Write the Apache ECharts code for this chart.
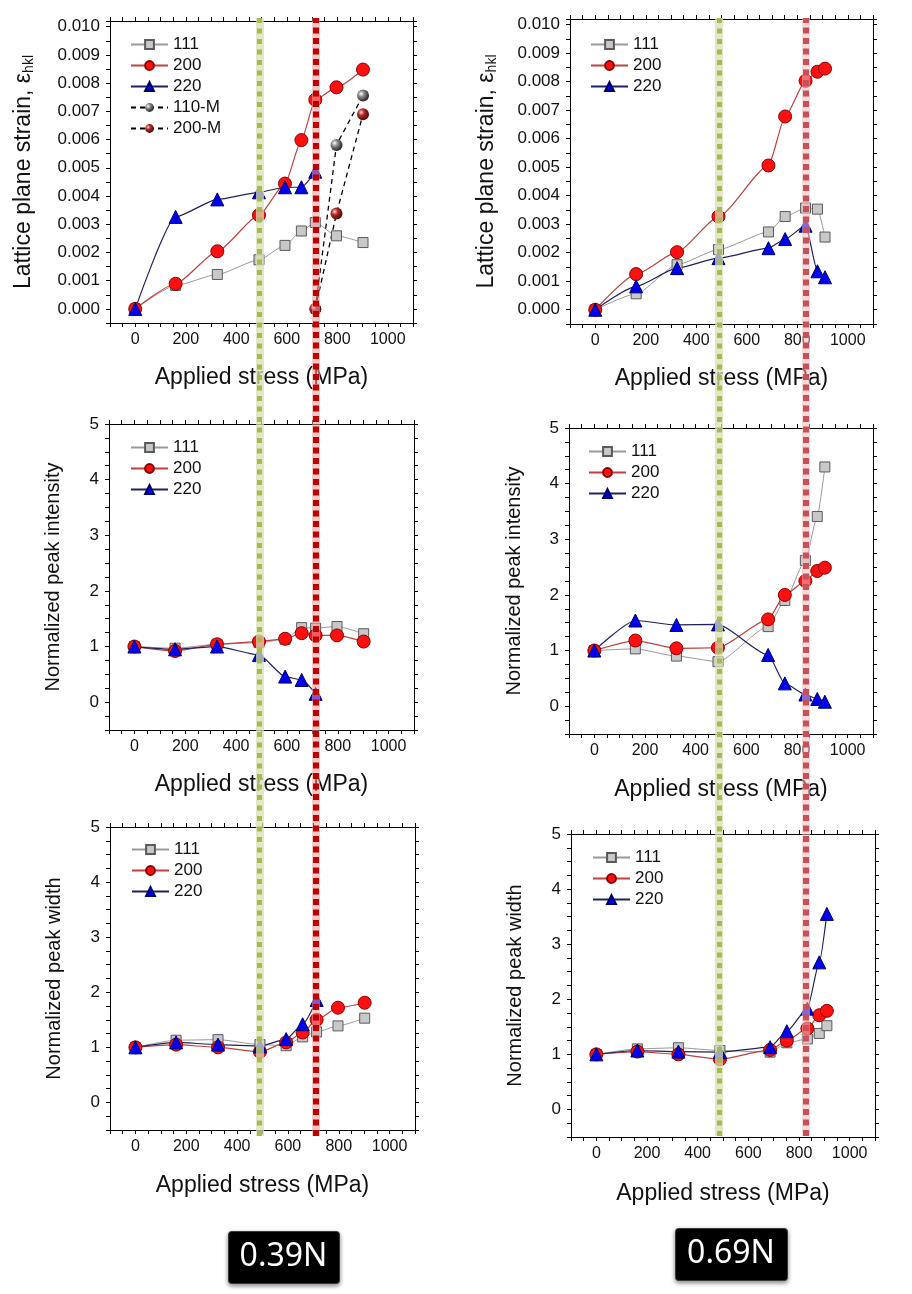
<!DOCTYPE html>
<html><head><meta charset="utf-8">
<script src="https://cdn.jsdelivr.net/npm/echarts@6/dist/echarts.min.js"></script>
<style>html,body{margin:0;padding:0;background:#fff}#c{width:912px;height:1294px}</style>
</head><body><div id="c"></div>
<script>
// ---------------- data ----------------
const xLeft  = [0, 160, 325, 490, 593, 658, 713, 797, 902];   // applied stress, 0.39N
const xLeftM = [713, 797, 902];                               // martensite points, 0.39N
const xRight = [0, 162, 324, 488, 686, 752, 833, 880, 910];   // applied stress, 0.69N

const strainL111  = [0, 0.00083, 0.00122, 0.00174, 0.00225, 0.00276, 0.00306, 0.00259, 0.00235];
const strainL200  = [0, 0.00089, 0.00204, 0.00332, 0.00444, 0.00598, 0.00741, 0.00785, 0.00848];
const strainL220  = [0, 0.00326, 0.00388, 0.00413, 0.00431, 0.00431, 0.00486];
const strainL110M = [0, 0.00581, 0.00756];
const strainL200M = [0, 0.00338, 0.00690];

const intenL111 = [1.0, 0.97, 1.04, 1.07, 1.13, 1.34, 1.33, 1.36, 1.23];
const intenL200 = [1.0, 0.92, 1.04, 1.09, 1.14, 1.24, 1.20, 1.20, 1.09];
const intenL220 = [1.0, 0.95, 1.00, 0.85, 0.46, 0.40, 0.15];

const widthL111 = [1.0, 1.13, 1.14, 1.05, 1.03, 1.19, 1.28, 1.39, 1.53];
const widthL200 = [1.0, 1.05, 1.00, 0.92, 1.09, 1.27, 1.50, 1.72, 1.81];
const widthL220 = [1.0, 1.09, 1.05, 1.02, 1.15, 1.42, 1.86];

const strainR111 = [0, 0.00056, 0.00158, 0.00211, 0.00273, 0.00327, 0.00357, 0.00353, 0.00255];
const strainR200 = [0, 0.00125, 0.00202, 0.00327, 0.00506, 0.00678, 0.00803, 0.00835, 0.00846];
const strainR220 = [0, 0.00082, 0.00146, 0.00181, 0.00216, 0.00248, 0.00295, 0.00135, 0.00114];

const intenR111 = [1.0, 1.03, 0.90, 0.80, 1.43, 1.90, 2.62, 3.41, 4.30];
const intenR200 = [1.0, 1.18, 1.04, 1.05, 1.56, 2.00, 2.25, 2.43, 2.49];
const intenR220 = [1.0, 1.54, 1.46, 1.47, 0.92, 0.41, 0.21, 0.13, 0.08];

const widthR111 = [1.0, 1.10, 1.12, 1.07, 1.04, 1.21, 1.28, 1.38, 1.52];
const widthR200 = [1.0, 1.05, 1.00, 0.91, 1.08, 1.25, 1.47, 1.71, 1.79];
const widthR220 = [1.0, 1.07, 1.05, 1.04, 1.13, 1.42, 1.83, 2.67, 3.55];

const markLeft  = [490, 711];   // onset lines, 0.39N
const markRight = [488, 830];   // onset lines, 0.69N

const xTickLabels = [0, 200, 400, 600, 800, 1000];
const caseLabels = ['0.39N', '0.69N'];
const xName = 'Applied stress (MPa)';
const yNames = ['strain', 'Normalized peak intensity', 'Normalized peak width'];

// ---------------- helpers ----------------
const FONT = "'Liberation Sans', Arial, sans-serif";
const zip = (xs, ys) => ys.map((y, i) => [xs[i], y]);

function sphere(c0, c1, c2) {
  return {type: 'radial', x: 0.35, y: 0.35, r: 0.75,
    colorStops: [{offset: 0, color: c0}, {offset: 0.35, color: c1}, {offset: 1, color: c2}]};
}
function mk(name, xs, ys, kind, xi) {
  const base = {name, type: 'line', xAxisIndex: xi, yAxisIndex: xi, data: zip(xs, ys),
    smooth: 0.2, smoothMonotone: 'x', z: 3};
  if (kind === '111') Object.assign(base, {symbol: 'rect', symbolSize: 10,
    itemStyle: {color: '#c8c8c8', borderColor: '#5a5a5a', borderWidth: 1},
    lineStyle: {color: '#9a9a9a', width: 1}});
  if (kind === '200') Object.assign(base, {symbol: 'circle', symbolSize: 13,
    itemStyle: {color: '#ff1010', borderColor: '#8a0000', borderWidth: 1},
    lineStyle: {color: '#c04040', width: 1.2}});
  if (kind === '220') Object.assign(base, {symbol: 'triangle', symbolSize: 13,
    itemStyle: {color: '#0000f0', borderColor: '#000060', borderWidth: 1},
    lineStyle: {color: '#202060', width: 1.2}});
  if (kind === '110M') Object.assign(base, {symbol: 'circle', symbolSize: 12, smooth: false,
    itemStyle: {color: sphere('#ffffff', '#8a8a8a', '#111111')},
    lineStyle: {color: '#000', width: 1.3, type: [5, 4]}});
  if (kind === '200M') Object.assign(base, {symbol: 'circle', symbolSize: 12, smooth: false,
    itemStyle: {color: sphere('#ffd8d8', '#b52a2a', '#3a0000')},
    lineStyle: {color: '#000', width: 1.3, type: [5, 4]}});
  return base;
}

const panels = [
  {grid: {left: 110, top: 21, width: 303, height: 302}, y: [-0.0005, 0.0102, 0.0005, 0.001, 3], yName: 0, yGap: 74, xGap: 43,
   legend: {left: 125, top: 31}, names: ['111', '200', '220', '110-M', '200-M'],
   s: gi => [mk('111', xLeft, strainL111, '111', gi), mk('200', xLeft, strainL200, '200', gi), mk('220', xLeft, strainL220, '220', gi),
             mk('110-M', xLeftM, strainL110M, '110M', gi), mk('200-M', xLeftM, strainL200M, '200M', gi)]},
  {grid: {left: 109, top: 424, width: 305, height: 306}, y: [-0.5, 5, 0.25, 1, 0], yName: 1, yGap: 45, xGap: 43,
   legend: {left: 125, top: 434}, names: ['111', '200', '220'],
   s: gi => [mk('111', xLeft, intenL111, '111', gi), mk('200', xLeft, intenL200, '200', gi), mk('220', xLeft, intenL220, '220', gi)]},
  {grid: {left: 110, top: 827, width: 305, height: 303}, y: [-0.5, 5, 0.25, 1, 0], yName: 2, yGap: 45, xGap: 44,
   legend: {left: 126, top: 836}, names: ['111', '200', '220'],
   s: gi => [mk('111', xLeft, widthL111, '111', gi), mk('200', xLeft, widthL200, '200', gi), mk('220', xLeft, widthL220, '220', gi)]},
  {grid: {left: 570, top: 19, width: 303, height: 305}, y: [-0.0005, 0.0102, 0.0005, 0.001, 3], yName: 0, yGap: 71, xGap: 43,
   legend: {left: 585, top: 31}, names: ['111', '200', '220'],
   s: gi => [mk('111', xRight, strainR111, '111', gi), mk('200', xRight, strainR200, '200', gi), mk('220', xRight, strainR220, '220', gi)]},
  {grid: {left: 569, top: 428, width: 304, height: 306}, y: [-0.5, 5, 0.25, 1, 0], yName: 1, yGap: 44, xGap: 44,
   legend: {left: 583, top: 438}, names: ['111', '200', '220'],
   s: gi => [mk('111', xRight, intenR111, '111', gi), mk('200', xRight, intenR200, '200', gi), mk('220', xRight, intenR220, '220', gi)]},
  {grid: {left: 571, top: 834, width: 304, height: 303}, y: [-0.5, 5, 0.25, 1, 0], yName: 2, yGap: 45, xGap: 45,
   legend: {left: 587, top: 844}, names: ['111', '200', '220'],
   s: gi => [mk('111', xRight, widthR111, '111', gi), mk('200', xRight, widthR200, '200', gi), mk('220', xRight, widthR220, '220', gi)]}
];

const grid = [], xAxis = [], yAxis = [], series = [], legend = [];
const lineAxis = {show: true, onZero: false, lineStyle: {color: '#000', width: 1}};
const tick = {show: true, length: 4, lineStyle: {color: '#000', width: 1}};

panels.forEach((p, i) => {
  grid.push(Object.assign({containLabel: false}, p.grid));
  const [ymin, ymax, yint, ystep, ydec] = p.y;
  const xi = 2 * i;
  xAxis.push({type: 'value', gridIndex: i, min: -100, max: 1100, interval: 50, position: 'bottom',
    axisLine: lineAxis, axisTick: tick, splitLine: {show: false},
    axisLabel: {fontSize: 16, color: '#111', fontFamily: FONT, margin: 9,
      formatter: v => xTickLabels.indexOf(Math.round(v)) >= 0 && Math.abs(v - Math.round(v)) < 1e-6 ? String(Math.round(v)) : ''},
    name: xName, nameLocation: 'middle', nameGap: p.xGap,
    nameTextStyle: {fontSize: 23, color: '#111', fontFamily: FONT, lineHeight: 24}});
  xAxis.push({type: 'value', gridIndex: i, min: -100, max: 1100, interval: 50, position: 'top',
    axisLine: lineAxis, axisTick: tick, axisLabel: {show: false}, splitLine: {show: false}});
  const yFmt = v => { const k = v / ystep, r = Math.round(k); return (Math.abs(k - r) > 1e-6 || r < 0) ? '' : (r * ystep).toFixed(ydec); };
  let nameObj;
  if (p.yName === 0) {
    nameObj = {name: '{m|Lattice plane strain, ε}{s|hkl}', nameRotate: 90,
      nameTextStyle: {color: '#111', fontFamily: FONT, rich: {
        m: {fontSize: 23, lineHeight: 24, verticalAlign: 'top', fontFamily: FONT, color: '#111'},
        s: {fontSize: 14, lineHeight: 14, verticalAlign: 'bottom', padding: [12, 0, 0, 0], fontFamily: FONT, color: '#111'}}}};
  } else {
    nameObj = {name: yNames[p.yName], nameRotate: 90,
      nameTextStyle: {fontSize: 20, color: '#111', fontFamily: FONT, lineHeight: 22}};
  }
  yAxis.push(Object.assign({type: 'value', gridIndex: i, min: ymin, max: ymax, interval: yint, position: 'left',
    axisLine: lineAxis, axisTick: tick, splitLine: {show: false},
    axisLabel: {fontSize: 17, color: '#111', fontFamily: FONT, margin: 10, formatter: yFmt},
    nameLocation: 'middle', nameGap: p.yGap}, nameObj));
  yAxis.push({type: 'value', gridIndex: i, min: ymin, max: ymax, interval: yint, position: 'right',
    axisLine: lineAxis, axisTick: tick, axisLabel: {show: false}, splitLine: {show: false}});
  p.s(xi).forEach(s => series.push(s));
  legend.push({orient: 'vertical', left: p.legend.left, top: p.legend.top, data: p.names,
    itemWidth: 37, itemHeight: 11, itemGap: 4, selectedMode: false,
    textStyle: {fontSize: 17, color: '#111', fontFamily: FONT}});
});

// overlay grids for the vertical onset lines spanning each column
const overlays = [
  {left: 110, width: 304, marks: markLeft, red: '#c00000', redHalo: 'rgba(235,160,160,0.55)'},
  {left: 570, width: 304, marks: markRight, red: '#c8505a', redHalo: 'rgba(240,190,190,0.55)'}
];
overlays.forEach((o) => {
  const gi = grid.length;
  grid.push({left: o.left, width: o.width, top: 18, bottom: 1294 - 1136});
  const ai = xAxis.length;
  xAxis.push({type: 'value', gridIndex: gi, min: -100, max: 1100, show: false});
  yAxis.push({type: 'value', gridIndex: gi, min: 0, max: 1, show: false});
  const ml = (val, style) => ({type: 'line', xAxisIndex: ai, yAxisIndex: ai, data: [], silent: true, z: 10,
    markLine: {silent: true, symbol: ['none', 'none'], label: {show: false}, animation: false,
      emphasis: {disabled: true}, data: [{xAxis: val, lineStyle: style}]}});
  series.push(ml(o.marks[0], {color: 'rgba(215,224,180,0.75)', width: 8, type: 'solid'}));
  series.push(ml(o.marks[0], {color: '#a6ba4e', width: 5, type: [5, 5.5], cap: 'butt'}));
  series.push(ml(o.marks[1], {color: o.redHalo, width: 8, type: 'solid'}));
  series.push(ml(o.marks[1], {color: o.red, width: 6, type: [6, 4.5], cap: 'butt'}));
});

const boxes = [{x: 228, y: 1231, w: 111, h: 52}, {x: 675, y: 1228, w: 112, h: 52}];
const graphic = [];
boxes.forEach((b, i) => {
  graphic.push({type: 'rect', left: b.x, top: b.y, shape: {width: b.w, height: b.h, r: 3},
    style: {fill: '#000', stroke: '#3a3a3a', lineWidth: 1, shadowBlur: 4, shadowColor: 'rgba(0,0,0,0.45)', shadowOffsetY: 2}, z: 20});
  graphic.push({type: 'text', x: b.x + b.w / 2, y: b.y + b.h / 2,
    style: {text: caseLabels[i], fill: '#fff', fontSize: 32, fontFamily: "'Noto Sans', sans-serif", align: 'center', verticalAlign: 'middle'}, z: 21});
});

const chart = echarts.init(document.getElementById('c'), null, {renderer: 'canvas'});
chart.setOption({animation: false, backgroundColor: '#fff', grid, xAxis, yAxis, series, legend, graphic});
</script></body></html>
